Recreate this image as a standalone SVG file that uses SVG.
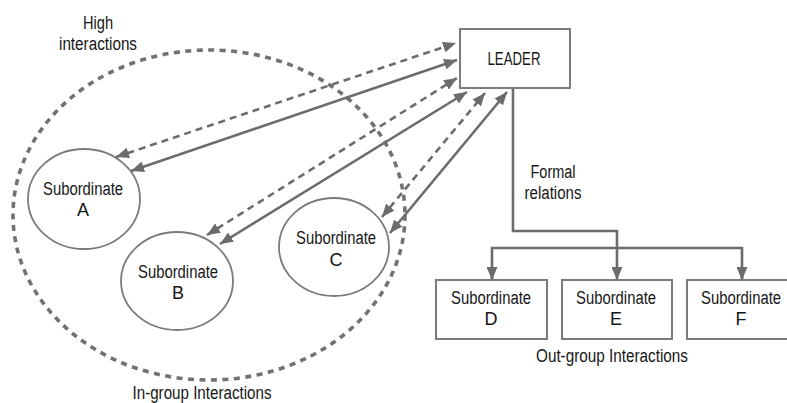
<svg xmlns="http://www.w3.org/2000/svg" width="787" height="403" viewBox="0 0 787 403">
<style>
  .t { font-family: "Liberation Sans Narrow", "Liberation Sans", Arial, sans-serif; font-size: 18px; fill: #161616; text-anchor: middle; }
  .node { fill: #ffffff; stroke: #7b7b7b; stroke-width: 2; }
  .ell { fill: #ffffff; stroke: #7b7b7b; stroke-width: 1.8; }
  .link { fill: none; stroke: #6c6c6c; stroke-width: 2.6; }
  .dash { stroke-dasharray: 7 5; }
  .arr { marker-start: url(#ah); marker-end: url(#ah); }
  .one { marker-end: url(#ah); }
  .group { fill: none; stroke: #727272; stroke-width: 3.6; stroke-dasharray: 6 5.5; }
</style>
<defs>
  <marker id="ah" viewBox="0 0 13 11" refX="13" refY="5.5" markerWidth="13" markerHeight="11" markerUnits="userSpaceOnUse" orient="auto-start-reverse">
    <path d="M0,0 L13,5.5 L0,11 z" fill="#6c6c6c"/>
  </marker>
</defs>
<rect width="787" height="403" fill="#ffffff"/>

<g id="ingroup">
  <ellipse class="group" cx="209" cy="215" rx="196" ry="165"/>
  <text class="t" x="98" y="29" textLength="30" lengthAdjust="spacingAndGlyphs">High</text>
  <text class="t" x="98" y="50" textLength="78" lengthAdjust="spacingAndGlyphs">interactions</text>
  <text class="t" x="202" y="399" textLength="139" lengthAdjust="spacingAndGlyphs">In-group Interactions</text>
</g>

<g id="sub-a">
  <ellipse class="ell" cx="84" cy="199" rx="56" ry="50"/>
  <text class="t" x="83" y="195" textLength="80" lengthAdjust="spacingAndGlyphs">Subordinate</text>
  <text class="t" x="83" y="216">A</text>
</g>
<g id="sub-b">
  <ellipse class="ell" cx="177" cy="281" rx="56" ry="49"/>
  <text class="t" x="178" y="278" textLength="80" lengthAdjust="spacingAndGlyphs">Subordinate</text>
  <text class="t" x="178" y="299">B</text>
</g>
<g id="sub-c">
  <ellipse class="ell" cx="334" cy="247" rx="55" ry="49"/>
  <text class="t" x="336" y="244" textLength="80" lengthAdjust="spacingAndGlyphs">Subordinate</text>
  <text class="t" x="336" y="266">C</text>
</g>

<g id="connectors">
  <line class="link dash arr" x1="116" y1="157" x2="456" y2="43"/>
  <line class="link arr" x1="131" y1="171" x2="457" y2="60"/>
  <line class="link dash arr" x1="207" y1="235" x2="457" y2="78"/>
  <line class="link arr" x1="220" y1="244" x2="467" y2="92"/>
  <line class="link dash arr" x1="382" y1="217" x2="485" y2="93"/>
  <line class="link arr" x1="390" y1="233" x2="507" y2="92"/>
  <path class="link one" d="M513,88 V231 H617 V280"/>
  <path class="link" d="M492,280 V248 H742 V280"/>
  <line class="link one" x1="492" y1="270" x2="492" y2="280"/>
  <line class="link one" x1="742" y1="270" x2="742" y2="280"/>
  <text class="t" x="553" y="178" textLength="45" lengthAdjust="spacingAndGlyphs">Formal</text>
  <text class="t" x="553" y="199" textLength="57" lengthAdjust="spacingAndGlyphs">relations</text>
</g>

<g id="leader">
  <rect class="node" x="460" y="29" width="110" height="59"/>
  <text class="t" x="514" y="65" textLength="53" lengthAdjust="spacingAndGlyphs">LEADER</text>
</g>

<g id="sub-d">
  <rect class="node" x="436" y="280" width="111" height="59"/>
  <text class="t" x="491" y="304" textLength="80" lengthAdjust="spacingAndGlyphs">Subordinate</text>
  <text class="t" x="491" y="325">D</text>
</g>
<g id="sub-e">
  <rect class="node" x="562" y="280" width="110" height="59"/>
  <text class="t" x="616" y="304" textLength="80" lengthAdjust="spacingAndGlyphs">Subordinate</text>
  <text class="t" x="616" y="325">E</text>
</g>
<g id="sub-f">
  <rect class="node" x="687" y="280" width="110" height="59"/>
  <text class="t" x="741" y="304" textLength="80" lengthAdjust="spacingAndGlyphs">Subordinate</text>
  <text class="t" x="741" y="325">F</text>
</g>

<g id="outgroup">
  <text class="t" x="612" y="362" textLength="152" lengthAdjust="spacingAndGlyphs">Out-group Interactions</text>
</g>
</svg>
